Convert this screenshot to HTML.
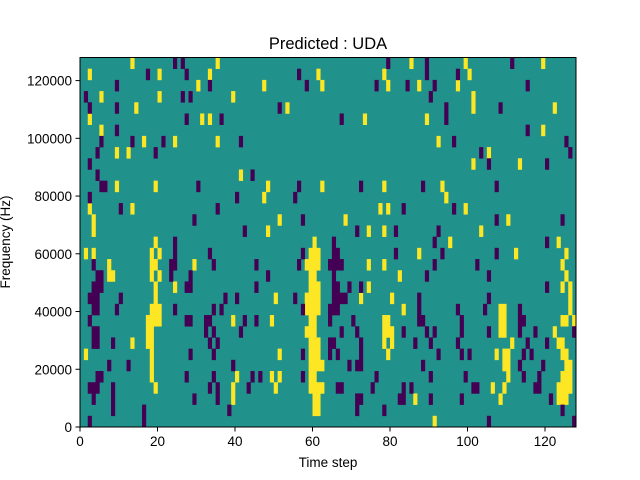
<!DOCTYPE html>
<html><head><meta charset="utf-8"><style>
body{margin:0;background:#fff;}
svg{display:block;font-family:"Liberation Sans","DejaVu Sans",sans-serif;}
</style></head><body>
<svg id="chart" width="640" height="480" viewBox="0 0 640 480" xmlns="http://www.w3.org/2000/svg">
<text x="328" y="49" text-anchor="middle" font-size="16.5">Predicted : UDA</text>
<g id="cells"></g>
<g id="axes"></g>
<text x="328" y="467" text-anchor="middle" font-size="13.5">Time step</text>
<text transform="translate(10,242) rotate(-90)" text-anchor="middle" font-size="13.5">Frequency (Hz)</text>
</svg>
<script>
const nSteps = 128;
const nBins = 33;
const freqMax = 128000;
const xTicks = [0,20,40,60,80,100,120];
const yTicks = [0,20000,40000,60000,80000,100000,120000];
// rows listed from top (highest frequency) to bottom; values = time steps
const highRows = [
[13,35,85,99,119],[2,20,33,61,78,100],[30,47,62,79,87,97],[5,20,39,101],[14,53,101,122],
[2,31,33,73,89],[5,119],[16,24,35,92],[9,12,105],[101,113],[41],[9,19,48,62,78,93],
[47,94],[2,13,77,79,99],[3,51,68,110],[3,48,74,78,103],[19,60,95,123],
[1,3,18,20,59,60,61,87,112,125],[7,18,19,29,58,59,60,61,74,78,124],[7,8,18,20,59,60,82,125],
[19,24,59,60,61,74,124,126],[19,50,58,59,60,61,72,80,126],[18,19,20,58,59,60,61,83,108,109,126],
[17,18,19,20,39,49,59,60,78,79,108,109,124,125,127],[17,18,58,59,60,78,79,80,108,109,122],
[13,17,18,59,60,61,78,80,111,123,124],[1,18,51,59,60,61,79,107,109,110,124,125],
[18,59,60,61,62,109,110,125,126],[18,40,49,51,59,60,110,124,125,126],
[19,39,50,59,60,61,62,106,109,123,124,125,126],[39,60,61,86,108,123,124,125],[60,61],[91]
];
const lowRows = [
[24,26,79,89,111],[17,27,56,89,97],[9,33,58,76,84,91,115],[1,26,28,90],[2,9,51,94,108],
[27,36,67,94],[9,115],[5,13,21,41,96,125],[4,19,103,126],[2,105,120],[4,44],
[5,6,30,56,72,88,107],[2,40,55],[10,35,83,96],[29,57,107,124],[42,71,81,92],[24,65,91,120],
[24,33,57,65,66,81,93,107],[3,23,24,34,45,56,64,65,66,67,91,102],[4,5,23,28,48,65,89,105],
[3,4,5,27,28,45,65,66,69,72,120],[2,3,4,10,37,40,55,65,66,67,68,87,105],
[3,4,9,24,34,36,57,64,65,66,87,97,104,113],[2,27,28,32,33,42,45,64,70,87,88,98,113,114],
[3,4,32,34,41,67,71,83,89,91,98,105,113,117,127],[3,4,8,33,35,64,65,72,86,90,97,115,120],
[28,34,57,64,66,72,92,98,100,114,116],[7,12,39,69,71,72,88,113,119],
[4,5,27,34,44,46,57,76,90,99,114,118],[2,3,4,8,33,35,43,66,67,75,83,85,101,102,117,118],
[3,8,29,35,71,72,82,83,90,98,121],[8,16,38,71,78,124],[2,16,105,127]
];
const NS='http://www.w3.org/2000/svg';
const L=80,R=576,T=57.5,B=427;
const xs=t=>L+(R-L)*t/nSteps;
const ys=f=>B-(B-T)*f/freqMax;
const binH=freqMax/nBins;
const cells=document.getElementById('cells');
const axes=document.getElementById('axes');
function mk(tag,attrs,parent){const e=document.createElementNS(NS,tag);for(const k in attrs)e.setAttribute(k,attrs[k]);parent.appendChild(e);return e;}
const bg=mk('rect',{x:L,y:T,width:R-L,height:B-T,fill:'#21918c'},cells);


function drawRows(rows,color,name){
  rows.forEach((list,r)=>{
    const bin=nBins-1-r;
    list.forEach(t=>{
      const y0=ys((bin+1)*binH), y1=ys(bin*binH);
      const c=mk('rect',{x:xs(t),y:y0,width:xs(t+1)-xs(t)+0.3,height:y1-y0+0.3,fill:color},cells);
      
      
    });
  });
}
drawRows(highRows,'#fde725','high-cell');
drawRows(lowRows,'#440154','low-cell');
const frame=mk('rect',{x:L,y:T,width:R-L,height:B-T,fill:'none',stroke:'#000','stroke-width':1},axes);


xTicks.forEach(v=>{
  const x=xs(v);
  const tk=mk('line',{x1:x,x2:x,y1:B,y2:B+4.5,stroke:'#000','stroke-width':1},axes);
  
  
  const tx=mk('text',{x:x,y:B+19,'text-anchor':'middle','font-size':13.5},axes);
  tx.textContent=v;
  
  
});
yTicks.forEach(v=>{
  const y=ys(v);
  const tk=mk('line',{x1:L-4.5,x2:L,y1:y,y2:y,stroke:'#000','stroke-width':1},axes);
  
  
  const tx=mk('text',{x:L-8,y:y+5,'text-anchor':'end','font-size':13.5},axes);
  tx.textContent=v;
  
  
});
</script>
</body></html>
